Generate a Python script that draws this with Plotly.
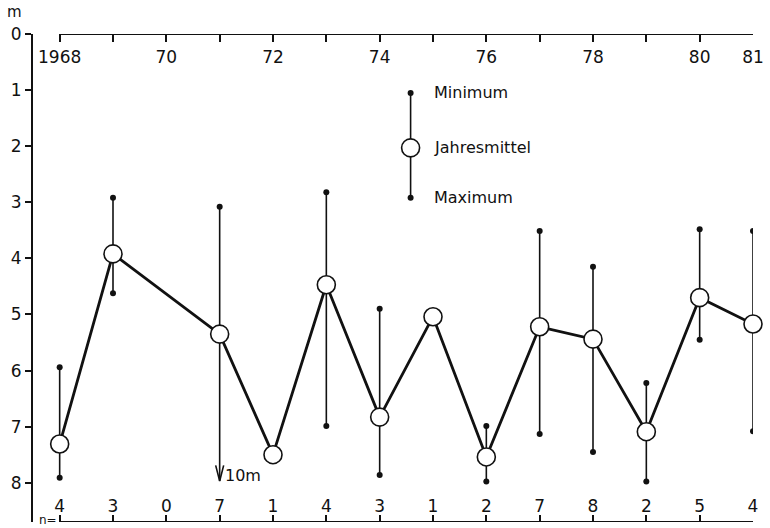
import plotly.graph_objects as go

# ---- data (depth below surface, m) ----
years = [1968, 1969, 1970, 1971, 1972, 1973, 1974, 1975, 1976, 1977, 1978, 1979, 1980, 1981]
n_obs = [4, 3, 0, 7, 1, 4, 3, 1, 2, 7, 8, 2, 5, 4]
mean_m = [7.31, 3.92, None, 5.35, 7.50, 4.47, 6.83, 5.04, 7.54, 5.22, 5.44, 7.09, 4.70, 5.17]
min_m = [5.94, 2.92, None, 3.08, None, 2.82, 4.90, None, 6.99, 3.51, 4.15, 6.22, 3.48, 3.51]
max_m = [7.91, 4.62, None, 10.0, None, 6.99, 7.86, None, 7.98, 7.13, 7.45, 7.98, 5.45, 7.08]

year_labels = {1968: "1968", 1970: "70", 1972: "72", 1974: "74", 1976: "76",
               1978: "78", 1980: "80", 1981: "81"}
y_ticks = [0, 1, 2, 3, 4, 5, 6, 7, 8]

Y_BOTTOM = 8.7          # lower end of depth axis
ARROW_TIP = 7.97        # off-scale maxima are drawn as an arrow ending here
X_LEFT = 1967.5

# legend key placement (data units)
LEG_X = 1974.58
LEG_Y = {"Minimum": 1.05, "Jahresmittel": 2.03, "Maximum": 2.92}

FONT = "DejaVu Sans"
BLACK = "#111111"

fig = go.Figure()

# vertical min-max lines with end dots
for yr, lo, hi in zip(years, min_m, max_m):
    if lo is None or hi is None:
        continue
    if hi > Y_BOTTOM:
        fig.add_trace(go.Scatter(x=[yr, yr], y=[lo, ARROW_TIP], mode="lines",
                                 line=dict(color=BLACK, width=1.6), showlegend=False,
                                 hoverinfo="skip"))
        fig.add_trace(go.Scatter(x=[yr], y=[lo], mode="markers",
                                 marker=dict(color=BLACK, size=6), showlegend=False,
                                 hoverinfo="skip"))
        # open V arrow head
        fig.add_trace(go.Scatter(x=[yr - 0.075, yr, yr + 0.075],
                                 y=[ARROW_TIP - 0.28, ARROW_TIP, ARROW_TIP - 0.28],
                                 mode="lines", line=dict(color=BLACK, width=1.6),
                                 showlegend=False, hoverinfo="skip"))
        fig.add_annotation(x=yr, y=ARROW_TIP, xref="x", yref="y",
                           text=f"{hi:.0f}m", showarrow=False, xanchor="left",
                           yanchor="bottom", xshift=3, yshift=-6,
                           font=dict(family=FONT, size=16, color=BLACK))
    else:
        fig.add_trace(go.Scatter(x=[yr, yr], y=[lo, hi], mode="lines+markers",
                                 line=dict(color=BLACK, width=1.6),
                                 marker=dict(color=BLACK, size=6), showlegend=False,
                                 hoverinfo="skip"))

# annual means
fig.add_trace(go.Scatter(x=years, y=mean_m, mode="lines+markers", connectgaps=True,
                         line=dict(color=BLACK, width=2.8),
                         marker=dict(size=18, color="white", line=dict(color=BLACK, width=1.6)),
                         showlegend=False, cliponaxis=False))

# legend key
fig.add_trace(go.Scatter(x=[LEG_X, LEG_X], y=[LEG_Y["Minimum"], LEG_Y["Maximum"]],
                         mode="lines+markers", line=dict(color=BLACK, width=1.6),
                         marker=dict(color=BLACK, size=6), showlegend=False))
fig.add_trace(go.Scatter(x=[LEG_X], y=[LEG_Y["Jahresmittel"]], mode="markers",
                         marker=dict(size=18, color="white", line=dict(color=BLACK, width=1.6)),
                         showlegend=False))
for label, yv in LEG_Y.items():
    fig.add_annotation(x=LEG_X, y=yv, xref="x", yref="y", text=label, showarrow=False,
                       xanchor="left", xshift=21, font=dict(family=FONT, size=16, color=BLACK))

# top and bottom axis lines (from first to last year)
fig.add_shape(type="line", x0=years[0], x1=years[-1], y0=0, y1=0, xref="x", yref="y",
              line=dict(color=BLACK, width=2))
fig.add_shape(type="line", x0=years[0], x1=years[-1], y0=Y_BOTTOM, y1=Y_BOTTOM,
              xref="x", yref="y", line=dict(color=BLACK, width=2))

# unit labels
fig.add_annotation(x=-0.026, y=1.045, xref="paper", yref="paper", text="m", showarrow=False,
                   xanchor="center", yanchor="middle",
                   font=dict(family=FONT, size=15, color=BLACK))
fig.add_annotation(x=years[0], y=Y_BOTTOM, xref="x", yref="y", text="n=", showarrow=False,
                   xanchor="right", yanchor="middle", xshift=-1, yshift=2,
                   font=dict(family=FONT, size=12, color=BLACK))

fig.update_layout(
    width=770, height=528,
    margin=dict(l=33, r=8, t=34, b=6),
    plot_bgcolor="white", paper_bgcolor="white",
    font=dict(family=FONT, color=BLACK),
    xaxis=dict(range=[X_LEFT, years[-1]], side="top", showgrid=False, zeroline=False,
               showline=False, tickvals=years,
               ticktext=[year_labels.get(y, "") for y in years],
               ticks="inside", ticklen=8, tickwidth=1.6, tickcolor=BLACK,
               ticklabelposition="inside", ticklabeloverflow="allow",
               ticklabelstandoff=10,
               tickfont=dict(family=FONT, size=17, color=BLACK)),
    xaxis2=dict(range=[X_LEFT, years[-1]], overlaying="x", side="bottom", anchor="y",
                showgrid=False, zeroline=False, showline=False, tickvals=years,
                ticktext=[str(n) for n in n_obs],
                ticks="inside", ticklen=7, tickwidth=1.6, tickcolor=BLACK,
                ticklabelposition="inside", ticklabeloverflow="allow",
                tickfont=dict(family=FONT, size=17, color=BLACK)),
    yaxis=dict(range=[Y_BOTTOM, 0], showgrid=False, zeroline=False, showline=True,
               linecolor=BLACK, linewidth=2.2, tickvals=y_ticks, ticks="outside",
               ticklen=6, tickwidth=1.6, tickcolor=BLACK,
               tickfont=dict(family=FONT, size=17, color=BLACK)),
)
# dummy trace to activate bottom axis
fig.add_trace(go.Scatter(x=[years[0]], y=[None], xaxis="x2", showlegend=False))

fig.write_html("out.html", config={"displayModeBar": False},
               post_script="document.body.style.margin='0';")
